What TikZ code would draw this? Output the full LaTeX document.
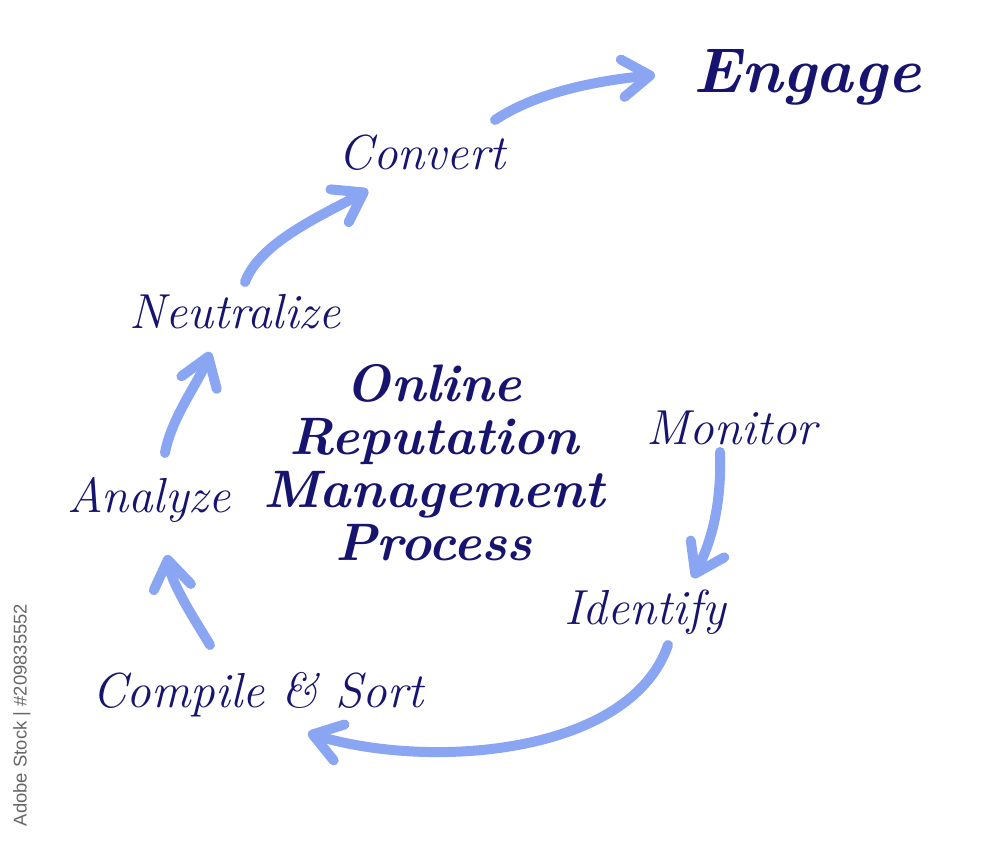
\documentclass[tikz,border=0pt]{standalone}
\usepackage{fontspec}
\newfontfamily\stockfont{Liberation Sans}
\usetikzlibrary{arrows.meta}
\definecolor{inkblue}{RGB}{22,20,110}
\definecolor{arrowblue}{RGB}{138,166,242}

\begin{document}
\begin{tikzpicture}[
  x=0.02cm, y=-0.02cm,
  stage/.style={
    text=inkblue, inner sep=0pt,
    font=\fontsize{28}{32}\selectfont\itshape
  },
  heading/.style={
    text=inkblue, inner sep=0pt, align=center,
    font=\fontsize{30}{30.2}\selectfont\bfseries\itshape
  },
  arr/.style={draw=arrowblue, line width=0.2cm, line cap=round,
    -{Straight Barb[length=0.55cm, width=0.75cm, round]}}
]
  \useasboundingbox (0,0) rectangle (1000,847);

  % Nodes
  \node[stage, font=\fontsize{36}{40}\selectfont\bfseries\itshape] (engage) at (807,77) {Engage};
  \node[stage] (convert)    at (422,153) {Convert};
  \node[stage] (neutralize) at (235,312) {Neutralize};
  \node[stage] (monitor)    at (732,428) {Monitor};
  \node[stage] (analyze)    at (149,500) {Analyze};
  \node[stage] (identify)   at (645,612) {Identify};
  \node[stage] (compile)    at (258,695) {Compile \& Sort};
  \node[heading] (orm) at (434,463) {Online\\Reputation\\Management\\Process};

  % Arrows
  \draw[arr] ([shift={(73,-33)}]convert.center)
    .. controls +(45,-30) and +(-50,5) .. ([shift={(-152,-2)}]engage.center);
  \draw[arr] ([shift={(10,-30)}]neutralize.center)
    .. controls +(15,-40) and +(-45,25) .. ([shift={(-54,37)}]convert.center);
  \draw[arr] ([shift={(16,-47)}]analyze.center)
    .. controls +(6,-35) and +(-10,28) .. ([shift={(-25,40)}]neutralize.center);
  \draw[arr] ([shift={(-48,-50)}]compile.center)
    .. controls +(-15,-25) and +(5,30) .. ([shift={(18,55)}]analyze.center);
  \draw[arr] ([shift={(-12,24)}]monitor.center)
    .. controls +(2,60) and +(15,-30) .. ([shift={(48,-34)}]identify.center);
  \draw[arr] ([shift={(23,33)}]identify.center)
    .. controls +(-38,110) and +(122,37) .. ([shift={(50,38)}]compile.center);

  % Stock tag
  \node[rotate=90, text=black!60, inner sep=0pt,
    font=\stockfont\fontsize{10.5}{12}\selectfont] (stock) at (22,715)
    {Adobe Stock | \#209835552};
\end{tikzpicture}
\end{document}
